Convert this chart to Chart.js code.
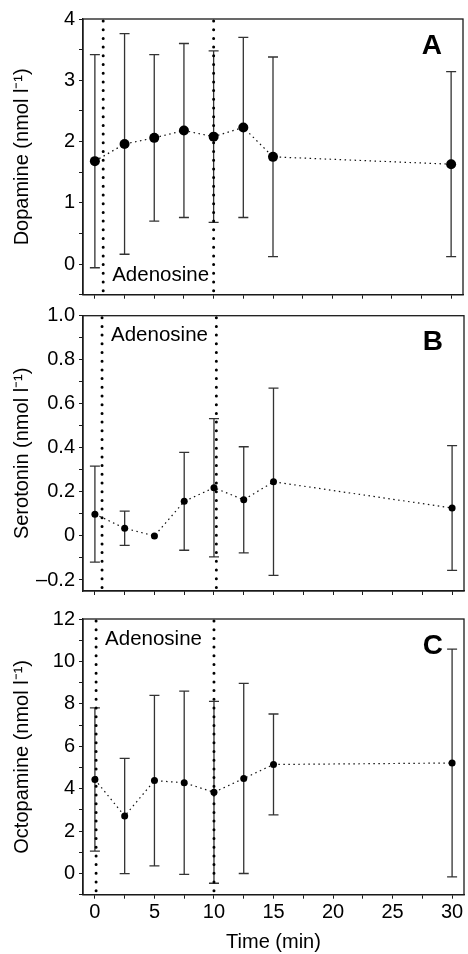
<!DOCTYPE html>
<html>
<head>
<meta charset="utf-8">
<script src="https://cdn.jsdelivr.net/npm/chart.js@4.4.0/dist/chart.umd.min.js"></script>
<style>
  html, body { margin: 0; padding: 0; background: #fff; }
  #wrap { position: relative; width: 468px; height: 954px; }
  canvas { position: absolute; left: 0; top: 0; }
</style>
</head>
<body>
<div id="wrap">
  <canvas id="panel-a" width="468" height="954"></canvas>
  <canvas id="panel-b" width="468" height="954"></canvas>
  <canvas id="panel-c" width="468" height="954"></canvas>
</div>
<script>
const times = [0, 2.5, 5, 7.5, 10, 12.5, 15, 30];
const timeTicks = [0, 5, 10, 15, 20, 25, 30];

const dopamineMean = [1.68, 1.96, 2.06, 2.18, 2.08, 2.23, 1.75, 1.63];
const dopamineSd = [1.74, 1.80, 1.36, 1.42, 1.40, 1.47, 1.63, 1.51];
const dopamineTicks = [0, 1, 2, 3, 4];

const serotoninMean = [0.099, 0.035, 0, 0.157, 0.219, 0.164, 0.246, 0.127];
const serotoninSd = [0.218, 0.078, 0, 0.222, 0.314, 0.241, 0.425, 0.283];
const serotoninTicks = [-0.2, 0, 0.2, 0.4, 0.6, 0.8, 1.0];

const octopamineMean = [4.43, 2.71, 4.38, 4.28, 3.83, 4.48, 5.14, 5.21];
const octopamineSd = [3.38, 2.72, 4.02, 4.32, 4.29, 4.48, 2.38, 5.37];
const octopamineTicks = [0, 2, 4, 6, 8, 10, 12];

// adenosine window (start, end) as drawn in each panel
const adenosineA = [0.7, 10.0];
const adenosineB = [0.6, 10.2];
const adenosineC = [0.1, 10.0];

const FONT = '"Liberation Sans", Arial, Helvetica, sans-serif';
const INK = '#1a1a1a';

// major ticks plus a minor tick halfway between them
function withMinor(major, min, max) {
  const step = (major[1] - major[0]) / 2;
  const out = [];
  for (let k = Math.ceil(min / step - 1e-9); k * step <= max + 1e-9; k++) {
    out.push({ value: Math.round(k * step * 1000) / 1000 });
  }
  return out;
}

function isMajor(major, v) {
  return major.some(m => Math.abs(m - v) < 1e-6);
}

const panelDecor = {
  id: 'panelDecor',
  beforeDatasetsDraw(chart, args, opts) {
    const { ctx, chartArea: a, scales: { x, y } } = chart;
    ctx.save();
    ctx.strokeStyle = INK;
    ctx.lineWidth = 1.3;
    ctx.strokeRect(a.left, a.top, a.right - a.left, a.bottom - a.top);

    // error bars (mean +/- sd)
    ctx.strokeStyle = '#333';
    ctx.lineWidth = 1.3;
    opts.mean.forEach((m, i) => {
      const sd = opts.sd[i];
      if (!sd) return;
      const px = x.getPixelForValue(times[i]);
      const hi = y.getPixelForValue(m + sd);
      const lo = y.getPixelForValue(m - sd);
      ctx.beginPath();
      ctx.moveTo(px, hi); ctx.lineTo(px, lo);
      ctx.moveTo(px - 5, hi); ctx.lineTo(px + 5, hi);
      ctx.moveTo(px - 5, lo); ctx.lineTo(px + 5, lo);
      ctx.stroke();
    });
    ctx.restore();
  },
  afterDatasetsDraw(chart, args, opts) {
    const { ctx, chartArea: a, scales: { x } } = chart;
    ctx.save();
    ctx.strokeStyle = '#000';
    ctx.lineWidth = 3;
    ctx.lineCap = 'round';
    ctx.setLineDash([0, 8.7]);
    opts.adenosine.forEach(t => {
      const px = x.getPixelForValue(t);
      ctx.beginPath();
      ctx.moveTo(px, a.top + 2);
      ctx.lineTo(px, a.bottom);
      ctx.stroke();
    });
    ctx.setLineDash([]);

    ctx.fillStyle = '#000';
    ctx.font = '20.5px ' + FONT;
    ctx.textAlign = 'left';
    ctx.textBaseline = 'middle';
    const lx = x.getPixelForValue(opts.adenosine[0]) + 9;
    ctx.fillText('Adenosine', lx, opts.labelBottom ? a.bottom - 19 : a.top + 20);

    ctx.font = 'bold 28px ' + FONT;
    ctx.textAlign = 'right';
    ctx.fillText(opts.letter, a.right - 21, a.top + 27);
    ctx.restore();
  }
};

function makePanel(id, cfg) {
  const tickFont = { family: FONT, size: 20 };
  return new Chart(document.getElementById(id), {
    type: 'line',
    data: {
      datasets: [{
        data: times.map((t, i) => ({ x: t, y: cfg.mean[i] })),
        borderColor: '#111',
        borderWidth: 1.2,
        borderDash: [1.5, 3.5],
        pointRadius: cfg.pointRadius,
        pointBackgroundColor: '#000',
        pointBorderWidth: 0,
        tension: 0
      }]
    },
    options: {
      responsive: false,
      animation: false,
      layout: { padding: { top: cfg.top, bottom: cfg.padBottom, left: 0, right: 2 } },
      plugins: {
        legend: { display: false },
        tooltip: { enabled: false },
        panelDecor: {
          mean: cfg.mean, sd: cfg.sd, adenosine: cfg.adenosine,
          labelBottom: cfg.labelBottom, letter: cfg.letter
        }
      },
      scales: {
        x: {
          type: 'linear',
          min: -1,
          max: 31,
          afterBuildTicks: s => { s.ticks = withMinor(timeTicks, -1, 31); },
          afterFit: s => { s.height = cfg.xHeight; },
          grid: { drawOnChartArea: false, drawTicks: true, tickLength: 4, color: INK },
          border: { display: true, color: INK, width: 1.3 },
          ticks: {
            display: cfg.showTime,
            autoSkip: false,
            maxRotation: 0,
            padding: 2,
            color: '#000',
            font: tickFont,
            callback: v => isMajor(timeTicks, v) ? String(v) : ''
          },
          title: { display: cfg.showTime, text: 'Time (min)', color: '#000', font: tickFont, padding: 0 }
        },
        y: {
          min: cfg.yMin,
          max: cfg.yMax,
          afterBuildTicks: s => { s.ticks = withMinor(cfg.ticks, cfg.yMin, cfg.yMax); },
          afterFit: s => { s.width = 83; },
          grid: { drawOnChartArea: false, drawTicks: true, tickLength: 4, color: INK },
          border: { display: true, color: INK, width: 1.3 },
          ticks: {
            autoSkip: false,
            padding: 4,
            color: '#000',
            font: tickFont,
            callback: v => isMajor(cfg.ticks, v) ? cfg.format(v) : ''
          },
          title: { display: true, text: cfg.label, color: '#000', font: tickFont, padding: { top: 10, bottom: 0 } }
        }
      }
    },
    plugins: [panelDecor]
  });
}

const fmtInt = v => v < 0 ? '–' + Math.abs(v) : String(v);
const fmtOne = v => v === 0 ? '0' : (v < 0 ? '–' : '') + Math.abs(v).toFixed(1);

makePanel('panel-a', {
  mean: dopamineMean, sd: dopamineSd, ticks: dopamineTicks, format: fmtInt,
  yMin: -0.5, yMax: 4, label: 'Dopamine (nmol l⁻¹)', letter: 'A',
  adenosine: adenosineA, labelBottom: true, pointRadius: 5,
  top: 19, xHeight: 6, padBottom: 954 - 294.7 - 6, showTime: false
});

makePanel('panel-b', {
  mean: serotoninMean, sd: serotoninSd, ticks: serotoninTicks, format: fmtOne,
  yMin: -0.25, yMax: 1.0, label: 'Serotonin (nmol l⁻¹)', letter: 'B',
  adenosine: adenosineB, labelBottom: false, pointRadius: 3.5,
  top: 315.7, xHeight: 6, padBottom: 954 - 591 - 6, showTime: false
});

makePanel('panel-c', {
  mean: octopamineMean, sd: octopamineSd, ticks: octopamineTicks, format: fmtInt,
  yMin: -1, yMax: 12, label: 'Octopamine (nmol l⁻¹)', letter: 'C',
  adenosine: adenosineC, labelBottom: false, pointRadius: 3.5,
  top: 619, xHeight: 59.3, padBottom: 0, showTime: true
});
</script>
</body>
</html>
